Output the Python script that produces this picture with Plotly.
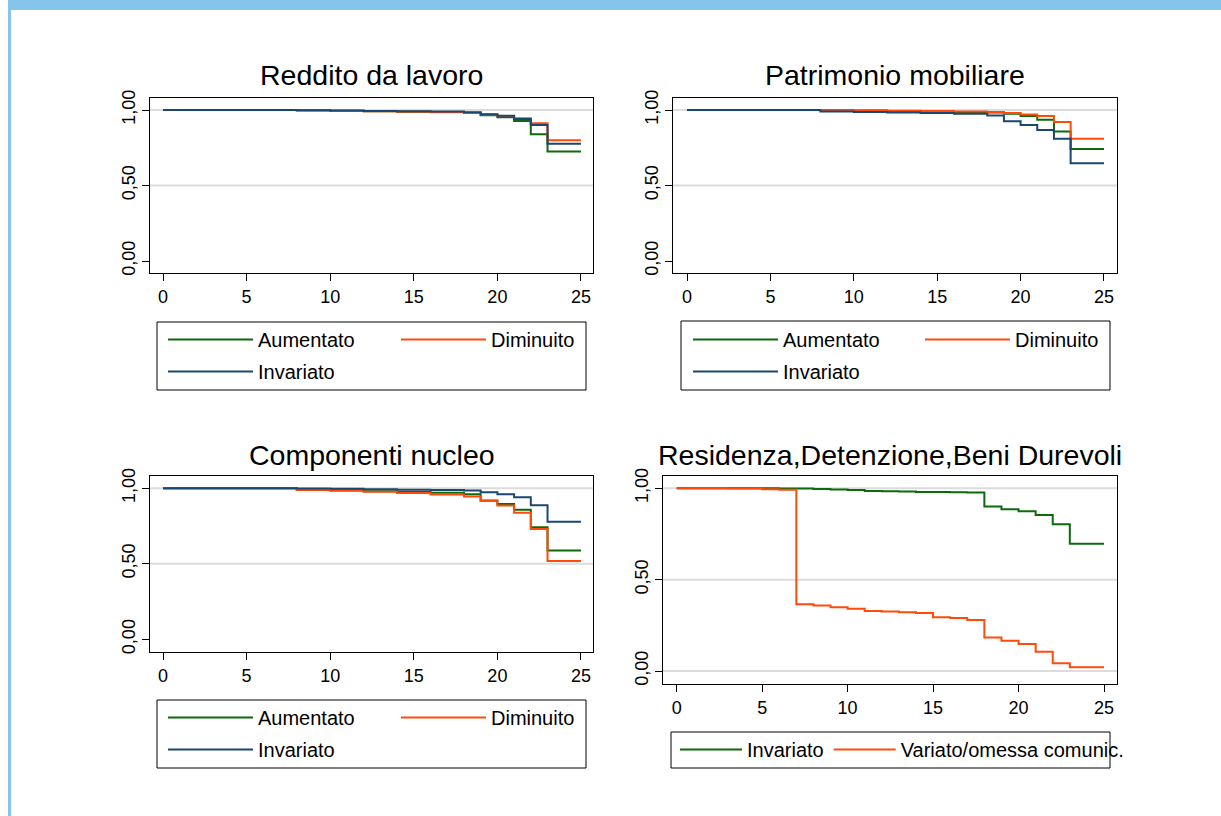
import plotly.graph_objects as go

W, H = 1221, 816

# ---------------- data ----------------
t_std = [0, 8, 10, 12, 14, 16, 18, 19, 20, 21, 22, 23, 25]

# Reddito da lavoro
p1_aum = [1.0, 0.998, 0.995, 0.992, 0.989, 0.986, 0.982, 0.965, 0.952, 0.927, 0.840, 0.725, 0.725]
p1_dim = [1.0, 0.997, 0.994, 0.991, 0.988, 0.985, 0.980, 0.970, 0.960, 0.945, 0.912, 0.800, 0.800]
p1_inv = [1.0, 0.998, 0.996, 0.994, 0.992, 0.990, 0.985, 0.972, 0.962, 0.940, 0.900, 0.777, 0.777]

# Patrimonio mobiliare
p2_aum = [1.0, 0.998, 0.996, 0.993, 0.990, 0.987, 0.983, 0.975, 0.960, 0.935, 0.857, 0.742, 0.742]
p2_dim = [1.0, 0.999, 0.997, 0.995, 0.993, 0.990, 0.987, 0.980, 0.970, 0.960, 0.920, 0.810, 0.810]
p2_inv = [1.0, 0.990, 0.987, 0.984, 0.980, 0.976, 0.963, 0.925, 0.900, 0.868, 0.810, 0.648, 0.648]

# Componenti nucleo
p3_aum = [1.0, 0.990, 0.986, 0.980, 0.975, 0.970, 0.960, 0.918, 0.896, 0.857, 0.742, 0.588, 0.588]
p3_dim = [1.0, 0.989, 0.984, 0.976, 0.968, 0.958, 0.945, 0.916, 0.885, 0.837, 0.730, 0.518, 0.518]
p3_inv = [1.0, 0.999, 0.996, 0.993, 0.990, 0.988, 0.985, 0.974, 0.960, 0.940, 0.888, 0.778, 0.778]

# Residenza, Detenzione, Beni Durevoli
t4 = [0, 3, 5, 6, 7, 8, 9, 10, 11, 12, 13, 14, 15, 16, 17, 18, 19, 20, 21, 22, 23, 25]
p4_inv = [1.0, 1.0, 1.0, 0.999, 0.998, 0.996, 0.993, 0.990, 0.985, 0.983, 0.982, 0.980, 0.979,
          0.978, 0.977, 0.900, 0.885, 0.874, 0.854, 0.803, 0.697, 0.697]
p4_var = [1.0, 0.998, 0.995, 0.992, 0.365, 0.358, 0.349, 0.341, 0.328, 0.325, 0.321, 0.318, 0.294,
          0.290, 0.279, 0.184, 0.166, 0.148, 0.106, 0.042, 0.020, 0.020]

titles = ["Reddito da lavoro", "Patrimonio mobiliare", "Componenti nucleo",
          "Residenza,Detenzione,Beni Durevoli"]
names3 = ["Aumentato", "Diminuito", "Invariato"]
names2 = ["Invariato", "Variato/omessa comunic."]

x_ticks = [0, 5, 10, 15, 20, 25]
y_ticks = [0, 0.5, 1.0]
y_ticktext = ["0,00", "0,50", "1,00"]

GREEN = "#0b6b0b"
ORANGE = "#ff4a0a"
NAVY = "#1a476f"
FONT = "Liberation Sans, Arial, Helvetica, sans-serif"

def px(x):
    return x / W

def py(y):
    return 1 - y / H

# panel geometry (pixels)
panels = [
    dict(x=(150, 593), y=(98, 273), xr=(-0.78, 25.72), yr=(-0.0795, 1.0795), grid=[0.5, 1.0]),
    dict(x=(673, 1117), y=(98, 273), xr=(-0.84, 25.78), yr=(-0.0795, 1.0795), grid=[0.5, 1.0]),
    dict(x=(150, 593), y=(476, 652), xr=(-0.78, 25.72), yr=(-0.084, 1.081), grid=[0.5, 1.0]),
    dict(x=(663, 1117), y=(476, 684), xr=(-0.80, 25.76), yr=(-0.071, 1.067), grid=[0.0, 0.5, 1.0]),
]

fig = go.Figure()

series = [
    (1, t_std, [(p1_aum, names3[0], GREEN, "legend"), (p1_dim, names3[1], ORANGE, "legend2"),
                (p1_inv, names3[2], NAVY, "legend")]),
    (2, t_std, [(p2_aum, names3[0], GREEN, "legend3"), (p2_dim, names3[1], ORANGE, "legend4"),
                (p2_inv, names3[2], NAVY, "legend3")]),
    (3, t_std, [(p3_aum, names3[0], GREEN, "legend5"), (p3_dim, names3[1], ORANGE, "legend6"),
                (p3_inv, names3[2], NAVY, "legend5")]),
    (4, t4, [(p4_inv, names2[0], GREEN, "legend7"), (p4_var, names2[1], ORANGE, "legend7")]),
]

for idx, tt, lst in series:
    for j, (vals, nm, col, lg) in enumerate(lst):
        fig.add_trace(go.Scatter(
            x=tt, y=vals, mode="lines", name=nm,
            line=dict(color=col, width=2, shape="hv"),
            xaxis="x" if idx == 1 else f"x{idx}",
            yaxis="y" if idx == 1 else f"y{idx}",
            legend=lg, legendgroup=f"g{idx}_{j}",
            hoverinfo="x+y+name",
        ))

layout = dict(
    width=W, height=H,
    margin=dict(l=0, r=0, t=0, b=0, pad=0, autoexpand=False),
    paper_bgcolor="white", plot_bgcolor="white",
    font=dict(family=FONT, color="black", size=18),
    showlegend=True,
)

shapes = []
annotations = []
for i, p in enumerate(panels):
    n = "" if i == 0 else str(i + 1)
    layout[f"xaxis{n}"] = dict(
        domain=[px(p["x"][0]), px(p["x"][1])], range=list(p["xr"]),
        anchor=f"y{n}", tickvals=x_ticks, ticks="outside", ticklen=7, tickwidth=1,
        tickcolor="black", showline=True, linecolor="black", linewidth=1, mirror=True,
        showgrid=False, zeroline=False, tickfont=dict(size=18, family=FONT, color="black"),
        fixedrange=True, automargin=False,
    )
    layout[f"yaxis{n}"] = dict(
        domain=[py(p["y"][1]), py(p["y"][0])], range=list(p["yr"]),
        anchor=f"x{n}", tickvals=y_ticks, ticktext=y_ticktext, tickangle=-90,
        ticks="outside", ticklen=7, tickwidth=1, tickcolor="black",
        showline=True, linecolor="black", linewidth=1, mirror=True,
        showgrid=False, zeroline=False, tickfont=dict(size=18, family=FONT, color="black"),
        fixedrange=True, automargin=False,
    )
    xref = "x" + n
    yref = "y" + n
    for g in p["grid"]:
        shapes.append(dict(type="line", xref=f"{xref} domain", yref=yref, x0=0, x1=1, y0=g, y1=g,
                           line=dict(color="#dcdcdc", width=2), layer="below"))
    cx = (p["x"][0] + p["x"][1]) / 2
    ty = 75 if i < 2 else 455
    annotations.append(dict(text=titles[i], xref="paper", yref="paper", x=px(cx), y=py(ty),
                            xanchor="center", yanchor="middle", showarrow=False,
                            font=dict(size=28.5, family=FONT, color="black")))

# legend boxes (pixels)
boxes = [(157, 322, 586, 390), (681, 321, 1110, 390), (157, 700, 586, 768), (671, 732, 1110, 768)]
for (x0, y0, x1, y1) in boxes:
    shapes.append(dict(type="rect", xref="paper", yref="paper", x0=px(x0), x1=px(x1),
                       y0=py(y1), y1=py(y0), line=dict(color="black", width=1),
                       fillcolor="rgba(0,0,0,0)"))

# slide border
shapes.append(dict(type="rect", xref="paper", yref="paper", x0=px(8), x1=1, y0=py(10), y1=1,
                   line=dict(width=0), fillcolor="#86c5eb"))
shapes.append(dict(type="rect", xref="paper", yref="paper", x0=px(8), x1=px(11), y0=0, y1=1,
                   line=dict(width=0), fillcolor="#86c5eb"))

layout["shapes"] = shapes
layout["annotations"] = annotations

IW = 85
leg_common = dict(orientation="v", xanchor="left", yanchor="top", itemwidth=IW,
                  bgcolor="rgba(0,0,0,0)", borderwidth=0, traceorder="grouped",
                  tracegroupgap=3, font=dict(size=20, family=FONT, color="black"),
                  itemclick=False, itemdoubleclick=False)
leg_pos = {
    "legend": (163, 320), "legend2": (396, 320),
    "legend3": (688, 320), "legend4": (920, 320),
    "legend5": (163, 698), "legend6": (396, 698),
}
for k, (lx, ly) in leg_pos.items():
    layout[k] = dict(leg_common, x=px(lx), y=py(ly))
layout["legend7"] = dict(orientation="h", xanchor="left", yanchor="top", itemwidth=62,
                         bgcolor="rgba(0,0,0,0)", borderwidth=0, x=px(675), y=py(730),
                         font=dict(size=20, family=FONT, color="black"),
                         itemclick=False, itemdoubleclick=False)

fig.update_layout(**layout)

post = ("document.documentElement.style.margin='0';document.body.style.margin='0';"
        "document.body.style.overflow='hidden';"
        "var d=document.getElementById('{plot_id}');"
        "d.style.position='absolute';d.style.left='0px';d.style.top='0px';")
fig.write_html("out.html", post_script=post, config={"displayModeBar": False})
